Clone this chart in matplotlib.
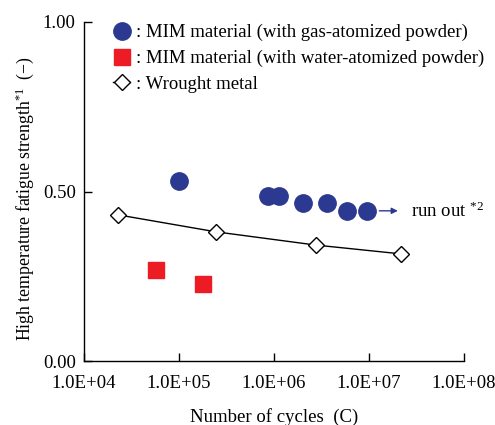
import matplotlib
matplotlib.use("Agg")
import matplotlib.pyplot as plt

plt.rcParams['font.family'] = ['Liberation Serif', 'DejaVu Serif']
plt.rcParams['mathtext.fontset'] = 'custom'
plt.rcParams['mathtext.rm'] = 'Liberation Serif'
plt.rcParams['mathtext.it'] = 'Liberation Serif'

gas_x = [1.0e5, 8.6e5, 1.12e6, 2.0e6, 3.6e6, 5.9e6, 9.5e6]
gas_y = [0.531, 0.487, 0.487, 0.466, 0.466, 0.443, 0.443]
water_x = [5.7e4, 1.79e5]
water_y = [0.268, 0.227]
wrought_x = [2.3e4, 2.45e5, 2.75e6, 2.17e7]
wrought_y = [0.431, 0.381, 0.342, 0.316]
xticks = [1e4, 1e5, 1e6, 1e7, 1e8]
xtick_labels = ["1.0E+04", "1.0E+05", "1.0E+06", "1.0E+07", "1.0E+08"]
yticks = [0.0, 0.5, 1.0]
ytick_labels = ["0.00", "0.50", "1.00"]

blue = '#2B3990'
red = '#ED1C24'
fs = 13.5

fig = plt.figure(figsize=(4.95, 4.25), dpi=100)
ax = fig.add_axes([84/495, 64/425, 380/495, 339/425])

ax.plot(wrought_x, wrought_y, color='black', lw=1.0, marker='D', ms=8.5,
        mfc='white', mec='black', mew=1.0, label=': Wrought metal', zorder=3)
ax.plot(gas_x, gas_y, ls='none', marker='o', ms=12.5, color=blue,
        label=': MIM material (with gas-atomized powder)', zorder=4)
ax.plot(water_x, water_y, ls='none', marker='s', ms=11.5, color=red,
        label=': MIM material (with water-atomized powder)', zorder=4)

ax.set_xscale('log')
ax.set_xlim(1e4, 1e8)
ax.set_ylim(0, 1)
ax.set_xticks(xticks)
ax.set_xticklabels(xtick_labels)
ax.minorticks_off()
ax.set_yticks(yticks)
ax.set_yticklabels(ytick_labels)
ax.tick_params(direction='in', length=6, width=1, labelsize=fs)
ax.tick_params(axis='x', pad=10)
ax.tick_params(axis='y', pad=6)
for s in ['top', 'right']:
    ax.spines[s].set_visible(False)
for s in ['left', 'bottom']:
    ax.spines[s].set_linewidth(1.0)

ax.set_xlabel('Number of cycles  (C)', fontsize=fs, labelpad=12)
ax.set_ylabel('High temperature fatigue strength$^{*1}$  (\u2212)', fontsize=12.8)
ax.yaxis.set_label_coords(-0.127, 0.478)

handles, labels = ax.get_legend_handles_labels()
order = [1, 2, 0]
ax.legend([handles[i] for i in order], [labels[i] for i in order],
          loc='upper left', bbox_to_anchor=(0.057, 1.016), frameon=False,
          fontsize=fs, handlelength=0.9, handletextpad=0.3,
          labelspacing=0.45, borderaxespad=0.0)

ax.annotate('', xy=(2.15e7, 0.443), xytext=(1.2e7, 0.443),
            arrowprops=dict(arrowstyle='-|>', color=blue, lw=1.0, mutation_scale=9))
ax.text(2.75e7, 0.443, 'run out $^{*2}$', fontsize=fs, va='center', ha='left')

fig.savefig('out.png', dpi=100)
